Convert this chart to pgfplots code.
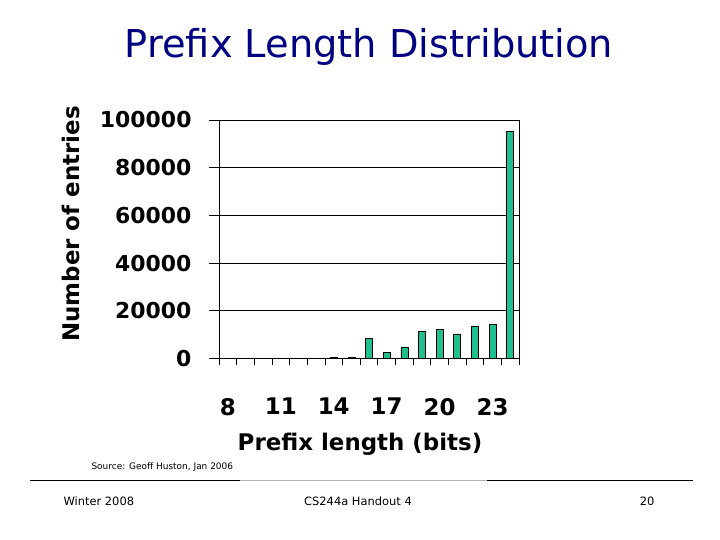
\documentclass[border=0pt]{standalone}
\usepackage{pgfplots}
\pgfplotsset{compat=1.18}
\usepackage{fontspec}
\setmainfont{DejaVu Sans}
\definecolor{barteal}{RGB}{31,191,143}
\definecolor{navy}{RGB}{0,0,128}
\begin{document}
\begin{tikzpicture}[x=1bp,y=1bp]
\path[fill=white,use as bounding box] (0,0) rectangle (720,540);
% title
\node[font=\fontsize{38.5}{44}\selectfont, text=navy, anchor=center] at (369,540-47) {Prefix Length Distribution};
\begin{axis}[
  at={(219bp,181.5bp)}, anchor=south west,
  scale only axis, width=300bp, height=238.5bp,
  xmin=7.5, xmax=24.5, ymin=0, ymax=100000,
  xtick={8,11,14,17,20,23},
  xticklabels={8,11,14,17,20,23},
  minor xtick={7.5,8.5,...,24.5},
  ytick={0,20000,40000,60000,80000,100000},
  yticklabels={0,20000,40000,60000,80000,100000},
  xtick pos=lower, ytick pos=left,
  tick align=outside,
  major tick length=10bp, minor tick length=7bp,
  major x tick style={draw=none},
  minor x tick style={draw=black, line width=0.7pt},
  ytick style={black, line width=0.7pt},
  ymajorgrids, grid style={black, line width=0.8pt},
  axis line style={black, line width=0.8pt},
  scaled y ticks=false,
  yticklabel style={font=\bfseries\fontsize{22}{24}\selectfont, xshift=-14bp},
  xticklabel style={font=\bfseries\fontsize{23}{26}\selectfont, yshift=-26bp},
  xlabel={Prefix length (bits)},
  xlabel style={font=\bfseries\fontsize{23}{26}\selectfont, at={(axis description cs:0.47,0)}, anchor=center, yshift=-85.5bp},
  ylabel={Number of entries},
  ylabel style={font=\bfseries\fontsize{23}{26}\selectfont, at={(axis description cs:-0.493,0.564)}, anchor=center},
  ybar, bar width=7bp,
]
\addplot[fill=barteal, draw=black, line width=0.6pt] coordinates {
(8,0) (9,0) (10,0) (11,0) (12,0) (13,0) (14,400) (15,400) (16,8500) (17,2700) (18,4900) (19,11300) (20,12200) (21,10300) (22,13600) (23,14500) (24,95200)
};
\end{axis}
\node[font=\fontsize{9}{11}\selectfont, anchor=west] at (88,540-467) {Source: Geoff Huston, Jan 2006};
\draw[black, line width=0.9pt] (30,540-480) -- (240,540-480);
\draw[gray!60, line width=0.9pt] (240,540-480) -- (487,540-480);
\draw[black, line width=0.9pt] (487,540-480) -- (693,540-480);
\node[font=\fontsize{11.5}{14}\selectfont, anchor=west] at (60,540-501) {Winter 2008};
\node[font=\fontsize{11.5}{14}\selectfont, anchor=center] at (358,540-501) {CS244a Handout 4};
\node[font=\fontsize{11.5}{14}\selectfont, anchor=east] at (658,540-501) {20};
\end{tikzpicture}
\end{document}
